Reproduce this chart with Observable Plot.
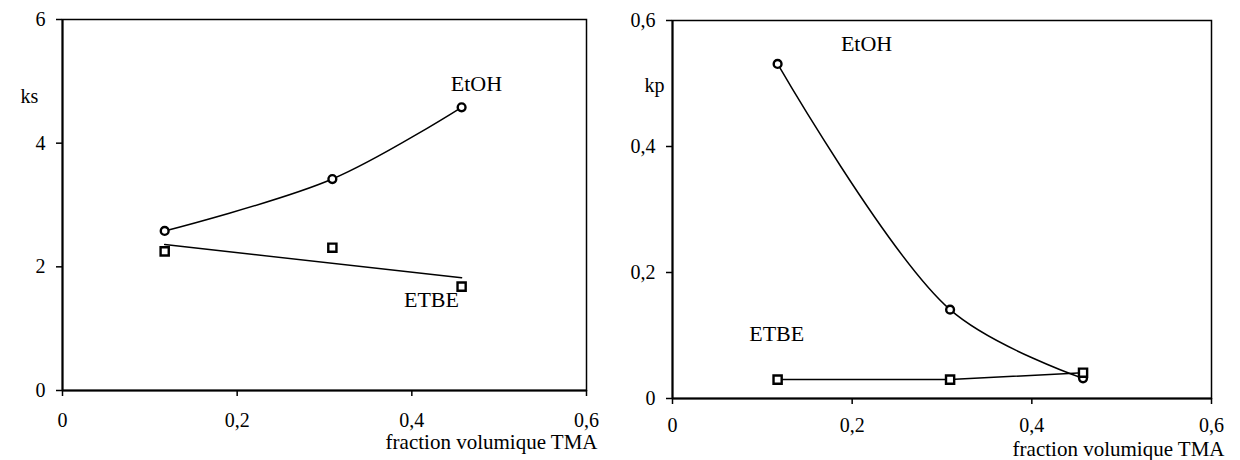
<!DOCTYPE html>
<html><head><meta charset="utf-8">
<script src="https://cdn.jsdelivr.net/npm/d3@7"></script>
<script src="https://cdn.jsdelivr.net/npm/@observablehq/plot@0.6"></script>
<style>
body{margin:0;background:#fff;}
#wrap{display:flex;width:1240px;height:460px;}
#wrap svg, #wrap svg text, #wrap svg g{font-family:'Liberation Serif','Times New Roman',serif !important;}
</style></head><body><div id="wrap"></div>
<script>
// ---- data ----
const tmaFraction = [0.117, 0.309, 0.457];
const ksEtOH = [2.58, 3.42, 4.58];
const ksETBE = [2.25, 2.31, 1.68];
const kpEtOH = [0.531, 0.141, 0.032];
const kpETBE = [0.030, 0.030, 0.041];
const xTicks = [0, 0.2, 0.4, 0.6];
const ksTicks = [0, 2, 4, 6];
const kpTicks = [0, 0.2, 0.4, 0.6];
const seriesNames = ["EtOH", "ETBE"];
const xTitle = "fraction volumique TMA";
const ksTitle = "ks";
const kpTitle = "kp";
// annotation anchors (data space)
const ksLabelX = [0.474, 0.4225];
const ksLabelY = [4.96, 1.46];
const kpLabelX = [0.216, 0.116];
const kpLabelY = [0.5635, 0.103];

const FONT = "'Liberation Serif', 'Times New Roman', serif";
const fr = d => String(d).replace(".", ",");
const rows = ys => tmaFraction.map((x, i) => ({x, y: ys[i]}));
const labels = (xs, ys) => seriesNames.map((name, i) => ({name, x: xs[i], y: ys[i]}));

function chart(cfg) {
  return Plot.plot({
    width: 620, height: 460,
    marginLeft: cfg.ml, marginRight: cfg.mr, marginTop: cfg.mt, marginBottom: cfg.mb,
    style: {fontFamily: FONT, fontSize: "20px", color: "#000", background: "#fff", overflow: "visible"},
    x: {domain: [0, 0.6]},
    y: {domain: cfg.yDomain},
    marks: [
      Plot.frame({stroke: "#000", strokeWidth: 1.5}),
      Plot.ruleX([0], {stroke: "#000", strokeWidth: 2}),
      Plot.ruleY([0], {stroke: "#000", strokeWidth: 2}),
      Plot.axisY({ticks: cfg.yTicks, tickSize: 6, tickPadding: 11, tickFormat: fr, label: null, strokeWidth: 1.5, fontSize: 20}),
      Plot.axisX({ticks: xTicks, tickSize: 6, tickPadding: cfg.xpad, tickFormat: fr, label: null, strokeWidth: 1.5, fontSize: 20}),
      Plot.text([xTitle], {text: d => d, frameAnchor: "bottom-right", textAnchor: "end", dx: cfg.tdx, dy: cfg.tdy, fontSize: 21}),
      Plot.text([cfg.yTitle], {text: d => d, frameAnchor: "top-left", dx: cfg.ydx, dy: cfg.ydy, fontSize: 20}),
      cfg.etbeMark,
      Plot.line(rows(cfg.etoh), {x: "x", y: "y", curve: "catmull-rom", stroke: "#000", strokeWidth: 1.5}),
      Plot.dot(rows(cfg.etoh), {x: "x", y: "y", symbol: "circle", r: 3.9, stroke: "#000", strokeWidth: 2.4, fill: "#fff"}),
      Plot.dot(rows(cfg.etbe), {x: "x", y: "y", symbol: "square", r: 4.6, stroke: "#000", strokeWidth: 2.4, fill: "#fff"}),
      Plot.text(cfg.labels, {x: "x", y: "y", text: "name", fontSize: 22})
    ]
  });
}

const left = chart({
  ml: 62, mr: 34, mt: 19, mb: 70, xpad: 16,
  yDomain: [0, 6], yTicks: ksTicks, yTitle: ksTitle,
  tdx: 11, tdy: 58, ydx: -42, ydy: 69,
  etoh: ksEtOH, etbe: ksETBE,
  etbeMark: Plot.linearRegressionY(rows(ksETBE), {x: "x", y: "y", ci: 0, stroke: "#000", strokeWidth: 1.5}),
  labels: labels(ksLabelX, ksLabelY)
});
const right = chart({
  ml: 52, mr: 29, mt: 20, mb: 62, xpad: 13,
  yDomain: [0, 0.6], yTicks: kpTicks, yTitle: kpTitle,
  tdx: 13, tdy: 57, ydx: -28, ydy: 57,
  etoh: kpEtOH, etbe: kpETBE,
  etbeMark: Plot.line(rows(kpETBE), {x: "x", y: "y", stroke: "#000", strokeWidth: 1.5}),
  labels: labels(kpLabelX, kpLabelY)
});
document.getElementById("wrap").append(left, right);
</script></body></html>
